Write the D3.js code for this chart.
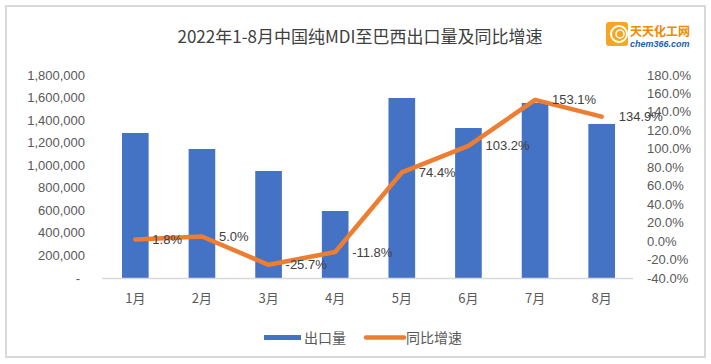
<!DOCTYPE html>
<html><head><meta charset="utf-8">
<script src="https://cdn.jsdelivr.net/npm/d3@7"></script>
<style>
body{margin:0;background:#fff;}
text{font-family:"Liberation Sans","Noto Sans CJK SC",sans-serif;}
</style></head>
<body>
<svg id="c" width="711" height="364"></svg>
<script>
const months = ["1月","2月","3月","4月","5月","6月","7月","8月"];
const exportVolume = [1286000, 1144000, 949000, 594000, 1596000, 1330000, 1552000, 1366000];
const yoyGrowth = [1.8, 5.0, -25.7, -11.8, 74.4, 103.2, 153.1, 134.9];
const leftTicks = [0,200000,400000,600000,800000,1000000,1200000,1400000,1600000,1800000];
const rightTicks = [-40,-20,0,20,40,60,80,100,120,140,160,180];
const title = "2022年1-8月中国纯MDI至巴西出口量及同比增速";

const svg = d3.select("#c");
const cjk = '"Noto Sans CJK SC","Liberation Sans",sans-serif';

svg.append("rect").attr("x",6).attr("y",6).attr("width",699).attr("height",351)
  .attr("fill","#fff").attr("stroke","#d9d9d9").attr("stroke-width",2);

const x = d3.scaleBand().domain(months).range([102,635]).paddingInner(0.6).paddingOuter(0.3);
const yL = d3.scaleLinear().domain([0,1800000]).range([278,75]);
const yR = d3.scaleLinear().domain([-40,180]).range([278,75]);

svg.append("text").attr("x",360).attr("y",43).attr("text-anchor","middle")
  .style("font-family",cjk).style("font-size","17px").attr("fill","#404040").text(title);

// logo
const lg = svg.append("g");
lg.append("rect").attr("x",606).attr("y",22).attr("width",22).attr("height",24).attr("rx",3).attr("fill","#f5a623");
lg.append("circle").attr("cx",619).attr("cy",34).attr("r",8).attr("fill","none").attr("stroke","#fff").attr("stroke-width",2);
lg.append("circle").attr("cx",620).attr("cy",34).attr("r",4).attr("fill","none").attr("stroke","#fff").attr("stroke-width",1.5);
lg.append("text").attr("x",630).attr("y",36).style("font-family",cjk).style("font-size","12px").style("font-weight","bold").attr("fill","#f08a00").text("天天化工网");
lg.append("text").attr("x",630).attr("y",47).style("font-size","9px").style("font-style","italic").style("font-weight","bold").attr("fill","#1d5fa8").text("chem366.com");

// left axis
const fmt = d3.format(",");
const la = svg.append("g");
la.selectAll("text").data(leftTicks).join("text")
  .attr("x", d => d===0 ? 80 : 85).attr("y", d => yL(d)).attr("dy","0.35em")
  .attr("text-anchor","end").style("font-size","13px").attr("fill","#595959")
  .text(d => d===0 ? "-" : fmt(d));

// right axis
svg.append("g").selectAll("text").data(rightTicks).join("text")
  .attr("x",647).attr("y", d => yR(d)).attr("dy","0.35em")
  .style("font-size","13px").attr("fill","#595959")
  .text(d => d.toFixed(1)+"%");

// bars
svg.append("g").selectAll("rect").data(exportVolume).join("rect")
  .attr("x",(d,i)=>x(months[i])).attr("width",x.bandwidth())
  .attr("y",d=>yL(d)).attr("height",d=>yL(0)-yL(d)).attr("fill","#4472C4");

// baseline
svg.append("line").attr("x1",102).attr("x2",633).attr("y1",278.5).attr("y2",278.5)
  .attr("stroke","#d9d9d9").attr("stroke-width",1.5);

// x labels
svg.append("g").selectAll("text").data(months).join("text")
  .attr("x",d=>x(d)+x.bandwidth()/2).attr("y",298).attr("dy","0.35em").attr("text-anchor","middle")
  .style("font-family",cjk).style("font-size","13px").attr("fill","#595959").text(d=>d);

// line
const cx = i => x(months[i]) + x.bandwidth()/2;
const line = d3.line().x((d,i)=>cx(i)).y(d=>yR(d));
svg.append("path").datum(yoyGrowth).attr("d",line).attr("fill","none")
  .attr("stroke","#ED7D31").attr("stroke-width",4.5).attr("stroke-linejoin","round").attr("stroke-linecap","round");

// labels
svg.append("g").selectAll("text").data(yoyGrowth).join("text")
  .attr("x",(d,i)=>cx(i)+17).attr("y",d=>yR(d)).attr("dy","0.35em")
  .style("font-size","13px").attr("fill","#404040").text(d=>d.toFixed(1)+"%");

// legend
const lgd = svg.append("g");
lgd.append("rect").attr("x",264).attr("y",335).attr("width",37).attr("height",5).attr("fill","#4472C4");
lgd.append("text").attr("x",304).attr("y",338).attr("dy","0.35em").style("font-family",cjk).style("font-size","14px").attr("fill","#595959").text("出口量");
lgd.append("line").attr("x1",366).attr("x2",404).attr("y1",337.5).attr("y2",337.5).attr("stroke","#ED7D31").attr("stroke-width",4.5).attr("stroke-linecap","round");
lgd.append("text").attr("x",406).attr("y",338).attr("dy","0.35em").style("font-family",cjk).style("font-size","14px").attr("fill","#595959").text("同比增速");
</script>
</body></html>
